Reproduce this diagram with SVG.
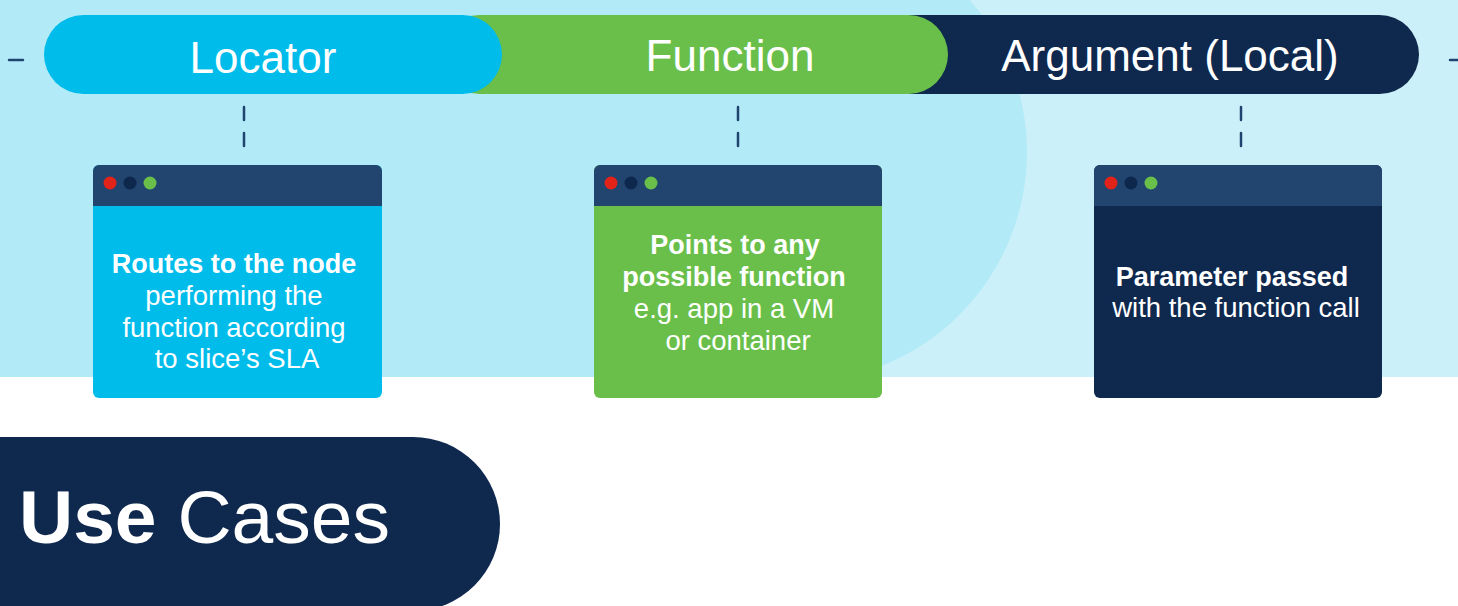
<svg xmlns="http://www.w3.org/2000/svg" width="1458" height="606" viewBox="0 0 1458 606">
  <style>
    .t { font-family: "Liberation Sans", Arial, sans-serif; fill: #ffffff; }
    .pill { font-size: 44px; text-anchor: middle; }
    .body { font-size: 27.5px; text-anchor: middle; }
    .b { font-weight: bold; font-size: 27px; }
    .dash { stroke: #1f4470; stroke-width: 2.5; stroke-linecap: round; fill: none; }
    .hdr { fill: #21456f; }
  </style>
  <defs>
    <g id="dots">
      <circle cx="0" cy="0" r="6.5" fill="#e2231a"/>
      <circle cx="20" cy="0" r="6.5" fill="#0d274d"/>
      <circle cx="40" cy="0" r="6.5" fill="#6abf4b"/>
    </g>
  </defs>

  <!-- background -->
  <rect x="0" y="0" width="1458" height="377" fill="#ccf0f9"/>
  <rect x="0" y="0" width="797" height="377" fill="#b2ebf7"/>
  <circle cx="797" cy="152" r="230" fill="#b2ebf7"/>
  <rect x="0" y="377" width="1458" height="229" fill="#ffffff"/>

  <!-- header bar -->
  <g id="bar-argument">
    <rect x="760" y="15" width="659" height="79" rx="39.5" fill="#0f284e"/>
    <text class="t pill" x="1170" y="71">Argument (Local)</text>
  </g>
  <g id="bar-function">
    <rect x="440" y="15" width="508" height="79" rx="39.5" fill="#6abf4b"/>
    <text class="t pill" x="730" y="71">Function</text>
  </g>
  <g id="bar-locator">
    <rect x="44" y="15" width="458" height="79" rx="39.5" fill="#00bceb"/>
    <text class="t pill" x="263" y="73" font-size="47">Locator</text>
  </g>

  <!-- connectors -->
  <g id="connectors">
    <line class="dash" x1="9" y1="60" x2="23" y2="60"/>
    <line class="dash" x1="1450" y1="60" x2="1460" y2="60"/>
    <line class="dash" x1="244" y1="107" x2="244" y2="120"/>
    <line class="dash" x1="244" y1="133" x2="244" y2="146"/>
    <line class="dash" x1="738" y1="107" x2="738" y2="120"/>
    <line class="dash" x1="738" y1="133" x2="738" y2="146"/>
    <line class="dash" x1="1241" y1="107" x2="1241" y2="120"/>
    <line class="dash" x1="1241" y1="133" x2="1241" y2="146"/>
  </g>

  <!-- box 1 -->
  <g id="box-locator">
    <rect x="93" y="165" width="289" height="233" rx="6" fill="#00bceb"/>
    <path class="hdr" d="M93,206 V171 a6,6 0 0 1 6,-6 H376 a6,6 0 0 1 6,6 V206 Z"/>
    <use href="#dots" x="110" y="183"/>
    <text class="t body b" x="234" y="273">Routes to the node</text>
    <text class="t body" x="234" y="305">performing the</text>
    <text class="t body" x="234" y="337">function according</text>
    <text class="t body" x="237" y="368">to slice’s SLA</text>
  </g>

  <!-- box 2 -->
  <g id="box-function">
    <rect x="594" y="165" width="288" height="233" rx="6" fill="#6abf4b"/>
    <path class="hdr" d="M594,206 V171 a6,6 0 0 1 6,-6 H876 a6,6 0 0 1 6,6 V206 Z"/>
    <use href="#dots" x="611" y="183"/>
    <text class="t body b" x="735" y="254">Points to any</text>
    <text class="t body b" x="734" y="286">possible function</text>
    <text class="t body" x="734" y="318">e.g. app in a VM</text>
    <text class="t body" x="738" y="350">or container</text>
  </g>

  <!-- box 3 -->
  <g id="box-argument">
    <rect x="1094" y="165" width="288" height="233" rx="6" fill="#0f284e"/>
    <path class="hdr" d="M1094,206 V171 a6,6 0 0 1 6,-6 H1376 a6,6 0 0 1 6,6 V206 Z"/>
    <use href="#dots" x="1111" y="183"/>
    <text class="t body b" x="1232" y="286">Parameter passed</text>
    <text class="t body" x="1236" y="317">with the function call</text>
  </g>

  <!-- use cases -->
  <g id="use-cases">
    <rect x="-200" y="437" width="700" height="174" rx="87" fill="#0f284e"/>
    <text class="t" x="19" y="543" font-size="75"><tspan font-weight="bold">Use</tspan> Cases</text>
  </g>
</svg>
